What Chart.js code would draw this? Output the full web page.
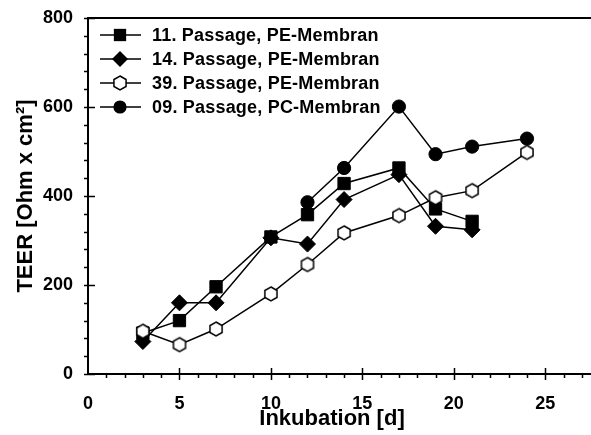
<!DOCTYPE html>
<html>
<head>
<meta charset="utf-8">
<title>TEER Inkubation</title>
<script src="https://cdn.jsdelivr.net/npm/chart.js@4"></script>
<style>
  html, body { margin: 0; padding: 0; background: #fff; }
  #wrap { width: 591px; height: 435px; }
</style>
</head>
<body>
<div id="wrap"><canvas id="c" width="591" height="435"></canvas></div>
<script>
// Measurement days and TEER values per culture
const labels = ['11. Passage, PE-Membran', '14. Passage, PE-Membran', '39. Passage, PE-Membran', '09. Passage, PC-Membran'];
const days11 = [3, 5, 7, 10, 12, 14, 17, 19, 21];
const teer11 = [92, 120, 196, 308, 358, 428, 463, 371, 343];
const days14 = [3, 5, 7, 10, 12, 14, 17, 19, 21];
const teer14 = [73, 160, 160, 306, 292, 392, 448, 332, 324];
const days39 = [3, 5, 7, 10, 12, 14, 17, 19, 21, 24];
const teer39 = [96, 66, 101, 180, 246, 317, 356, 396, 412, 498];
const days09 = [12, 14, 17, 19, 21, 24];
const teer09 = [386, 463, 601, 494, 511, 529];
const xTicks = [0, 5, 10, 15, 20, 25];
const yTicks = [0, 200, 400, 600, 800];
const xTitle = 'Inkubation [d]';
const yTitle = 'TEER [Ohm x cm²]';

const FONT = "'Liberation Sans', Arial, Helvetica, sans-serif";

// Open hexagon marker (pointy top)
function hexagonMarker() {
  const cv = document.createElement('canvas');
  cv.width = 18; cv.height = 18;
  const g = cv.getContext('2d');
  const r = 7;
  g.beginPath();
  for (let k = 0; k < 6; k++) {
    const a = -Math.PI / 2 + k * Math.PI / 3;
    const px = 9 + r * Math.cos(a), py = 9 + r * Math.sin(a);
    if (k === 0) g.moveTo(px, py); else g.lineTo(px, py);
  }
  g.closePath();
  g.fillStyle = '#fff';
  g.fill();
  g.lineWidth = 1.5;
  g.strokeStyle = '#000';
  g.stroke();
  return cv;
}
const hexImg = hexagonMarker();

function pts(xs, ys) { return xs.map((x, i) => ({ x: x, y: ys[i] })); }

function series(i, xs, ys, style, radius, order) {
  return {
    label: labels[i],
    data: pts(xs, ys),
    borderColor: '#000',
    borderWidth: 1.5,
    backgroundColor: '#000',
    pointStyle: style,
    pointRadius: radius,
    pointHoverRadius: radius,
    pointBorderColor: '#000',
    pointBackgroundColor: '#000',
    pointBorderWidth: 1,
    tension: 0,
    fill: false,
    order: order
  };
}

const datasets = [
  series(0, days11, teer11, 'rect', 8.7, 4),
  series(1, days14, teer14, 'rectRot', 8, 3),
  series(2, days39, teer39, hexImg, 7, 2),
  series(3, days09, teer09, 'circle', 6.6, 1)
];

function drawMarker(ctx, ds, x, y) {
  const s = ds.pointStyle, r = ds.pointRadius;
  ctx.save();
  ctx.fillStyle = '#000';
  ctx.strokeStyle = '#000';
  ctx.lineWidth = 1;
  if (typeof s === 'object') {
    ctx.drawImage(s, x - s.width / 2, y - s.height / 2);
  } else if (s === 'rect') {
    const h = r * Math.SQRT1_2;
    ctx.fillRect(x - h, y - h, 2 * h, 2 * h);
  } else if (s === 'rectRot') {
    ctx.beginPath();
    ctx.moveTo(x, y - r); ctx.lineTo(x + r, y); ctx.lineTo(x, y + r); ctx.lineTo(x - r, y);
    ctx.closePath(); ctx.fill();
  } else {
    ctx.beginPath(); ctx.arc(x, y, r, 0, Math.PI * 2); ctx.fill();
  }
  ctx.restore();
}

// Keep the plot frame fixed: no extra edge padding for overhanging tick labels
function fixedBox(size, dim) {
  return function (scale) {
    scale[dim] = size;
    scale.paddingLeft = 0; scale.paddingRight = 0;
    scale.paddingTop = 0; scale.paddingBottom = 0;
  };
}

// Axis decorations: top frame line, major ticks across the axis, minor ticks outside,
// the x-axis title and the legend box inside the plot
const axisDecor = {
  id: 'axisDecor',
  beforeDatasetsDraw(chart) {
    const { ctx, chartArea, scales } = chart;
    const xs = scales.x, ys = scales.y;
    const x0 = chartArea.left, y0 = chartArea.bottom;
    ctx.save();
    ctx.strokeStyle = '#000';
    ctx.lineWidth = 2;
    ctx.beginPath();
    ctx.moveTo(x0, chartArea.top); ctx.lineTo(chart.width, chartArea.top);
    ctx.stroke();
    ctx.lineWidth = 1.5;
    ctx.beginPath();
    for (let v = 0; v <= 800; v += 40) {
      const py = Math.round(ys.getPixelForValue(v)) + 0.5;
      if (v % 200 === 0) { ctx.moveTo(x0 - 4, py); ctx.lineTo(x0 + 7, py); }
      else { ctx.moveTo(x0 - 4, py); ctx.lineTo(x0, py); }
    }
    for (let v = 1; v <= 27; v += 1) {
      const px = Math.round(xs.getPixelForValue(v)) + 0.5;
      if (v % 5 === 0) { ctx.moveTo(px, y0 - 6); ctx.lineTo(px, y0 + 6); }
      else { ctx.moveTo(px, y0); ctx.lineTo(px, y0 + 4); }
    }
    ctx.stroke();

    ctx.fillStyle = '#000';
    ctx.font = 'bold 22px ' + FONT;
    ctx.textAlign = 'center';
    ctx.textBaseline = 'middle';
    ctx.fillText(xTitle, 332, 419);
    ctx.restore();
  },
  afterDatasetsDraw(chart) {
    const ctx = chart.ctx;
    const rows = [35, 59, 83, 107];
    ctx.save();
    chart.data.datasets.forEach((ds, i) => {
      const y = rows[i];
      ctx.strokeStyle = '#000';
      ctx.lineWidth = 1.5;
      ctx.beginPath();
      ctx.moveTo(100, y); ctx.lineTo(141, y);
      ctx.stroke();
      drawMarker(ctx, ds, 120, y);
      ctx.fillStyle = '#000';
      ctx.font = 'bold 18px ' + FONT;
      ctx.letterSpacing = '0.2px';
      ctx.textBaseline = 'middle';
      ctx.textAlign = 'left';
      ctx.fillText(ds.label, 152, y + 1);
    });
    ctx.restore();
  }
};

new Chart(document.getElementById('c'), {
  type: 'line',
  data: { datasets: datasets },
  plugins: [axisDecor],
  options: {
    responsive: false,
    animation: false,
    events: [],
    layout: { autoPadding: false, padding: { top: 18, right: 0, left: 0, bottom: 0 } },
    plugins: { legend: { display: false }, tooltip: { enabled: false } },
    scales: {
      x: {
        type: 'linear',
        min: 0,
        max: 27.5,
        afterFit: fixedBox(61, 'height'),
        afterBuildTicks(scale) { scale.ticks = xTicks.map(v => ({ value: v })); },
        grid: { display: false, drawTicks: false },
        border: { display: true, color: '#000', width: 2 },
        ticks: {
          padding: 19,
          color: '#000',
          font: { family: FONT, size: 18, weight: 'bold' }
        },
        title: { display: false }
      },
      y: {
        type: 'linear',
        min: 0,
        max: 800,
        afterFit: fixedBox(88, 'width'),
        afterBuildTicks(scale) { scale.ticks = yTicks.map(v => ({ value: v })); },
        grid: { display: false, drawTicks: false },
        border: { display: true, color: '#000', width: 2 },
        ticks: {
          padding: 15,
          color: '#000',
          font: { family: FONT, size: 18, weight: 'bold' }
        },
        title: {
          display: true,
          text: yTitle,
          color: '#000',
          padding: { top: 13, bottom: 0 },
          font: { family: FONT, size: 22, weight: 'bold' }
        }
      }
    }
  }
});
</script>
</body>
</html>
